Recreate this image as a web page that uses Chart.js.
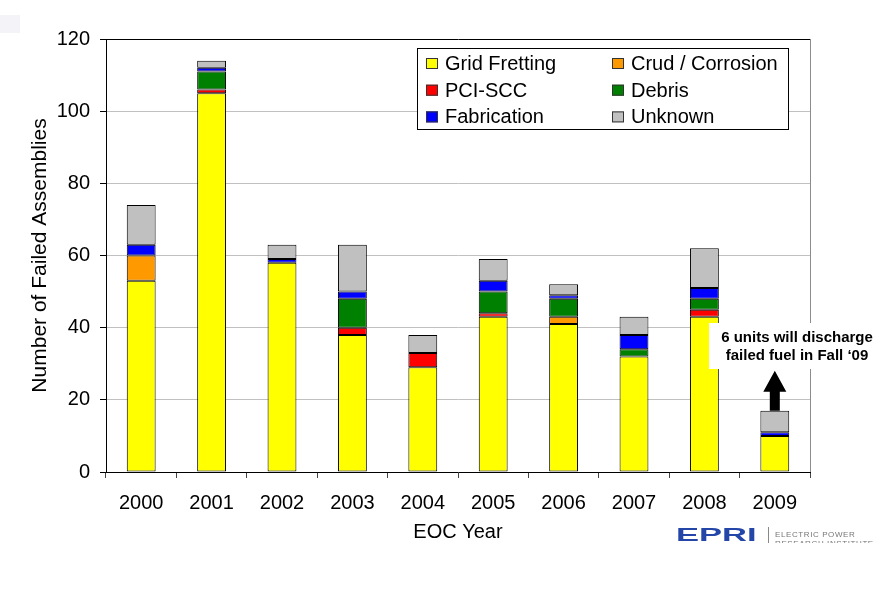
<!DOCTYPE html>
<html>
<head>
<meta charset="utf-8">
<script src="https://cdn.jsdelivr.net/npm/chart.js@4"></script>
<style>
  body { margin: 0; background: #fff; }
  #wrap { position: relative; width: 883px; height: 594px; }
  #corner { position: absolute; left: 0; top: 15px; width: 20px; height: 18px; background: #f3f3f8; }
  #logo { position: absolute; left: 676px; top: 527px; width: 200px; height: 16px; overflow: hidden; }
  #logo .mark { position: absolute; left: 0; top: -2px; font: bold 18px "Liberation Sans", Arial, sans-serif; color: #2446a8; transform: scale(1.92, 1); transform-origin: left top; }
  #logo .bar { position: absolute; left: 92px; top: 0; width: 1px; height: 20px; background: #888; }
  #logo .txt { position: absolute; left: 99px; top: 3px; font: 8px "Liberation Sans", Arial, sans-serif; color: #777; letter-spacing: 0.6px; line-height: 9px; }
</style>
</head>
<body>
<div id="wrap">
  <canvas id="grafico" width="883" height="594"></canvas>
  <div id="corner"></div>
  <div id="logo">
    <div class="mark">EPRI</div>
    <div class="bar"></div>
    <div class="txt">ELECTRIC POWER<br>RESEARCH INSTITUTE</div>
  </div>
</div>
<script>
// anos (EOC Year)
const years = ['2000', '2001', '2002', '2003', '2004', '2005', '2006', '2007', '2008', '2009'];

// falhas por causa
const gridFretting = [53, 105, 58, 38, 29, 43, 41, 32, 43, 10];
const crudCorrosion = [7, 0, 0, 0, 0, 0, 2, 0, 0, 0];
const pciScc = [0, 1, 0, 2, 4, 1, 0, 0, 2, 0];
const debris = [0, 5, 0, 8, 0, 6, 5, 2, 3, 0];
const fabrication = [3, 1, 1, 2, 0, 3, 1, 4, 3, 1];
const unknown = [11, 2, 4, 13, 5, 6, 3, 5, 11, 6];

const yTicks = [0, 20, 40, 60, 80, 100, 120];

const noteLines = ['6 units will discharge', 'failed fuel in Fall \u201809'];

Chart.defaults.font.family = '"Liberation Sans", Arial, sans-serif';
Chart.defaults.color = '#000';

function serie(label, data, color) {
  return {
    label: label,
    data: data,
    backgroundColor: color,
    borderColor: '#000',
    borderWidth: ctx => (ctx.raw ? 1 : 0),
    borderSkipped: false,
    categoryPercentage: 0.41,
    barPercentage: 1
  };
}

// legenda em caixa (2 colunas), borda direita e nota do ano 2009
const extras = {
  id: 'extras',
  beforeDatasetsDraw(chart) {
    const { ctx, chartArea } = chart;
    ctx.save();
    ctx.strokeStyle = '#8c8c8c';
    ctx.lineWidth = 1;
    ctx.beginPath();
    ctx.moveTo(chartArea.right + 0.5, chartArea.top);
    ctx.lineTo(chartArea.right + 0.5, chartArea.bottom);
    ctx.stroke();
    ctx.restore();
  },
  afterDatasetsDraw(chart) {
    const { ctx } = chart;
    const x = chart.scales.x;
    const y = chart.scales.y;

    // legenda
    ctx.save();
    ctx.fillStyle = '#fff';
    ctx.fillRect(417.5, 48.5, 371, 81);
    ctx.strokeStyle = '#000';
    ctx.lineWidth = 1;
    ctx.strokeRect(417.5, 48.5, 371, 81);
    ctx.font = '20px "Liberation Sans", Arial, sans-serif';
    ctx.textBaseline = 'middle';
    chart.data.datasets.forEach((ds, i) => {
      const col = i % 2;
      const row = Math.floor(i / 2);
      const bx = col === 0 ? 426 : 612;
      const by = 63.5 + row * 26.7;
      ctx.fillStyle = ds.backgroundColor;
      ctx.fillRect(bx, by - 5.5, 12, 11);
      ctx.strokeStyle = '#333';
      ctx.strokeRect(bx + 0.5, by - 5, 11, 10);
      ctx.fillStyle = '#000';
      ctx.fillText(ds.label, bx + 19, by + 1);
    });

    // nota
    ctx.fillStyle = '#fff';
    ctx.fillRect(709, 323, 174, 46);
    ctx.fillStyle = '#000';
    ctx.font = 'bold 15px "Liberation Sans", Arial, sans-serif';
    ctx.textAlign = 'center';
    ctx.fillText(noteLines[0], 797, 338);
    ctx.fillText(noteLines[1], 797, 356);

    // seta sobre a barra de 2009
    const last = years.length - 1;
    const total = gridFretting[last] + crudCorrosion[last] + pciScc[last] + debris[last] + fabrication[last] + unknown[last];
    const ax = x.getPixelForValue(last);
    const base = y.getPixelForValue(total);
    ctx.beginPath();
    ctx.moveTo(ax - 5, base);
    ctx.lineTo(ax - 5, base - 19);
    ctx.lineTo(ax - 11.5, base - 19);
    ctx.lineTo(ax, base - 40);
    ctx.lineTo(ax + 11.5, base - 19);
    ctx.lineTo(ax + 5, base - 19);
    ctx.lineTo(ax + 5, base);
    ctx.closePath();
    ctx.fill();
    ctx.restore();
  }
};

let grafico = new Chart(document.getElementById('grafico'), {
  type: 'bar',
  data: {
    labels: years,
    datasets: [
      serie('Grid Fretting', gridFretting, '#ffff00'),
      serie('Crud / Corrosion', crudCorrosion, '#ff9900'),
      serie('PCI-SCC', pciScc, '#ff0000'),
      serie('Debris', debris, '#008000'),
      serie('Fabrication', fabrication, '#0000ff'),
      serie('Unknown', unknown, '#c0c0c0')
    ]
  },
  options: {
    responsive: false,
    animation: false,
    devicePixelRatio: 1,
    layout: { padding: { left: 0, top: 39, right: 73, bottom: 0 } },
    plugins: {
      legend: { display: false },
      tooltip: { enabled: false }
    },
    scales: {
      x: {
        stacked: true,
        afterFit: s => { s.height = 122; },
        grid: { drawOnChartArea: false, tickLength: 6, tickColor: '#444' },
        border: { color: '#000', width: 1 },
        ticks: { font: { size: 20 }, padding: 13, color: '#000' },
        title: { display: true, text: 'EOC Year', font: { size: 20 }, padding: { top: 0, bottom: 50 } }
      },
      y: {
        stacked: true,
        min: 0,
        max: 120,
        afterFit: s => { s.width = 106; },
        afterBuildTicks: s => { s.ticks = yTicks.map(v => ({ value: v })); },
        grid: {
          color: c => (c.tick && c.tick.value === 120 ? '#000' : '#c0c0c0'),
          tickLength: 6,
          tickColor: '#000'
        },
        border: { color: '#000', width: 1 },
        ticks: { font: { size: 20 }, padding: 10, color: '#000' },
        title: { display: true, text: 'Number of Failed Assemblies', font: { size: 21 }, padding: { top: 28, bottom: 0 } }
      }
    }
  },
  plugins: [extras]
});
</script>
</body>
</html>
